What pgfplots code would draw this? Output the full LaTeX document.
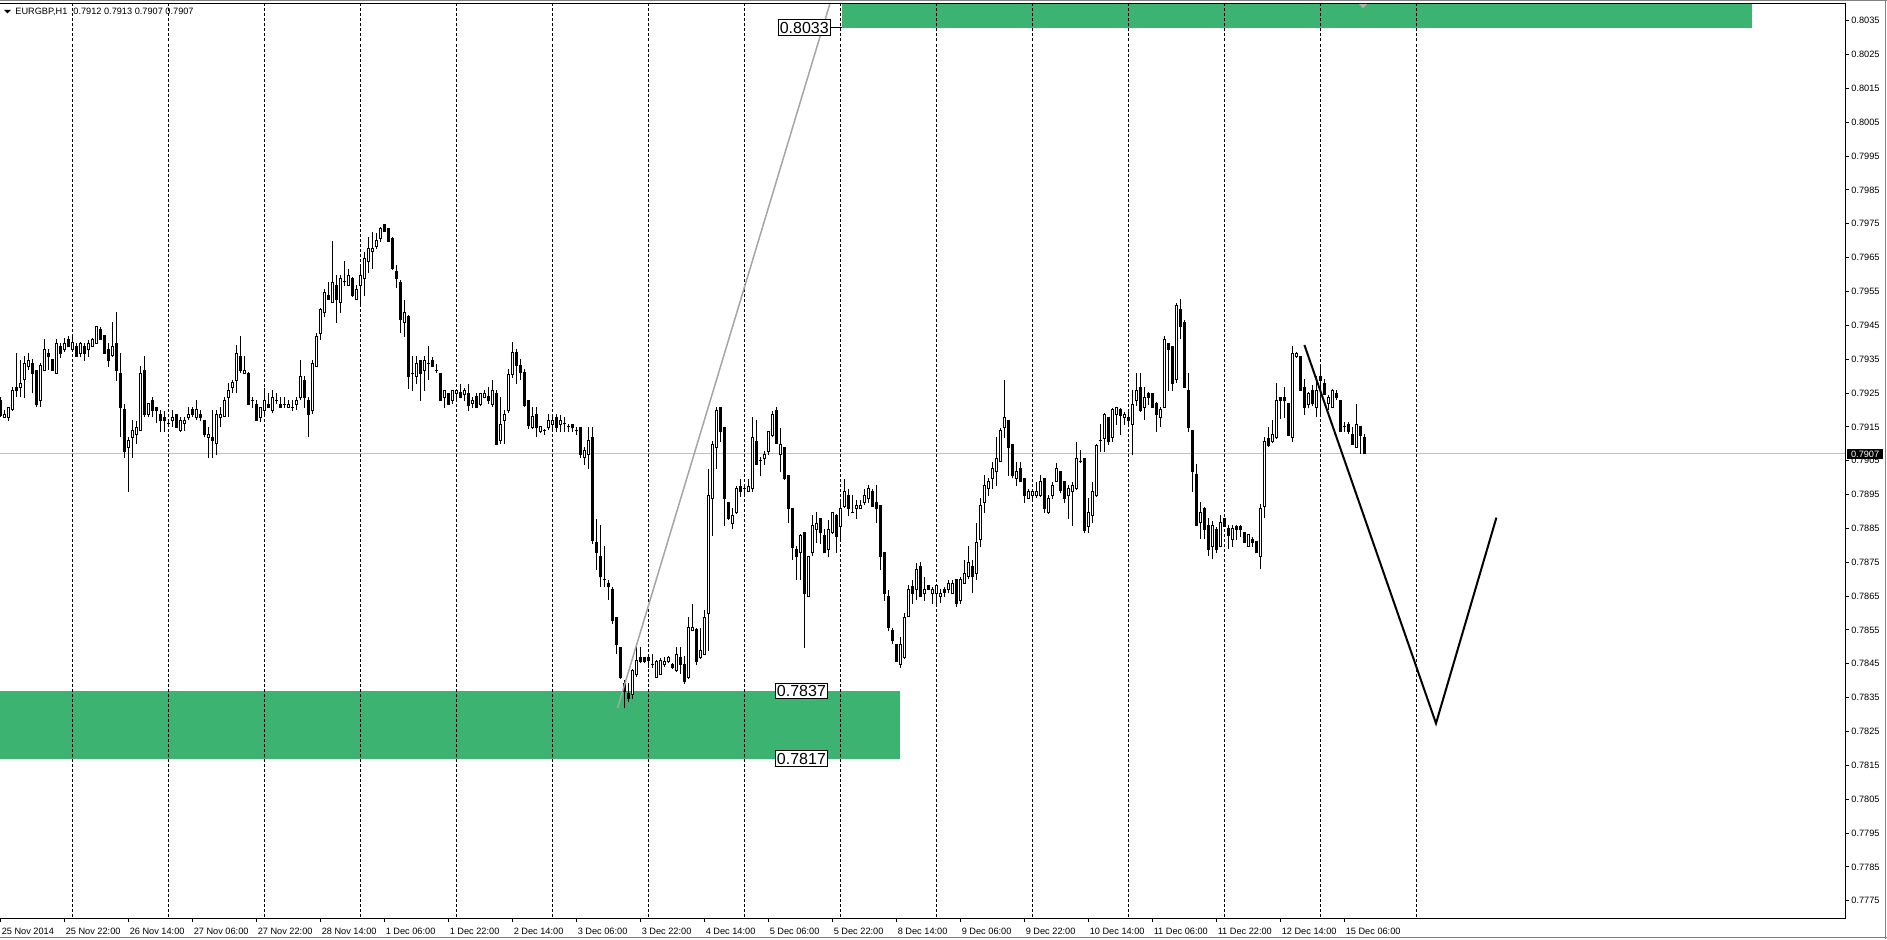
\documentclass[border=0pt]{standalone}
\usepackage{pgfplots}
\pgfplotsset{compat=1.18}
\usepackage{pgfplotstable}
\usepackage{fontspec}
\setmainfont{Liberation Sans}
\definecolor{zone}{RGB}{60,179,113}
\definecolor{bidgray}{RGB}{192,192,192}
\definecolor{trendgray}{RGB}{165,165,165}
\newcommand\mtf{\fontsize{4.6pt}{5.5pt}\selectfont}

\pgfplotstableread{
o h l c
0.79229 0.79239 0.79180 0.79185
0.79178 0.79200 0.79175 0.79188
0.79178 0.79210 0.79168 0.79208
0.79200 0.79267 0.79198 0.79259
0.79267 0.79367 0.79237 0.79257
0.79267 0.79348 0.79237 0.79279
0.79289 0.79360 0.79234 0.79338
0.79328 0.79367 0.79318 0.79346
0.79338 0.79350 0.79249 0.79308
0.79318 0.79318 0.79208 0.79215
0.79228 0.79338 0.79208 0.79330
0.79318 0.79409 0.79316 0.79379
0.79367 0.79379 0.79318 0.79358
0.79348 0.79348 0.79316 0.79316
0.79308 0.79409 0.79306 0.79397
0.79389 0.79397 0.79353 0.79367
0.79379 0.79412 0.79372 0.79397
0.79409 0.79419 0.79385 0.79387
0.79379 0.79417 0.79377 0.79399
0.79389 0.79397 0.79358 0.79358
0.79367 0.79402 0.79358 0.79397
0.79389 0.79397 0.79346 0.79367
0.79379 0.79407 0.79358 0.79397
0.79389 0.79412 0.79387 0.79409
0.79397 0.79448 0.79395 0.79446
0.79438 0.79446 0.79407 0.79409
0.79419 0.79419 0.79365 0.79367
0.79379 0.79397 0.79328 0.79346
0.79360 0.79460 0.79358 0.79389
0.79397 0.79489 0.79287 0.79316
0.79308 0.79367 0.79119 0.79208
0.79200 0.79218 0.79057 0.79077
0.79090 0.79121 0.78959 0.79109
0.79119 0.79170 0.79057 0.79139
0.79129 0.79168 0.79100 0.79149
0.79139 0.79330 0.79137 0.79308
0.79318 0.79360 0.79178 0.79188
0.79188 0.79220 0.79178 0.79218
0.79228 0.79239 0.79178 0.79198
0.79208 0.79210 0.79161 0.79198
0.79188 0.79200 0.79136 0.79168
0.79178 0.79198 0.79136 0.79168
0.79159 0.79170 0.79151 0.79159
0.79168 0.79200 0.79151 0.79178
0.79188 0.79188 0.79146 0.79149
0.79139 0.79178 0.79136 0.79168
0.79159 0.79178 0.79139 0.79170
0.79178 0.79208 0.79170 0.79188
0.79200 0.79210 0.79180 0.79188
0.79178 0.79229 0.79170 0.79200
0.79188 0.79200 0.79168 0.79178
0.79170 0.79170 0.79119 0.79129
0.79119 0.79151 0.79057 0.79129
0.79119 0.79200 0.79057 0.79109
0.79100 0.79200 0.79067 0.79188
0.79178 0.79208 0.79151 0.79188
0.79180 0.79239 0.79178 0.79229
0.79237 0.79279 0.79180 0.79259
0.79266 0.79288 0.79249 0.79280
0.79288 0.79392 0.79249 0.79367
0.79359 0.79418 0.79308 0.79316
0.79308 0.79359 0.79308 0.79318
0.79308 0.79313 0.79214 0.79217
0.79229 0.79239 0.79207 0.79229
0.79217 0.79229 0.79168 0.79168
0.79178 0.79209 0.79165 0.79207
0.79197 0.79266 0.79188 0.79229
0.79217 0.79249 0.79207 0.79207
0.79197 0.79259 0.79190 0.79237
0.79229 0.79249 0.79217 0.79229
0.79217 0.79237 0.79207 0.79207
0.79217 0.79237 0.79207 0.79217
0.79207 0.79229 0.79207 0.79217
0.79207 0.79229 0.79197 0.79207
0.79217 0.79239 0.79199 0.79229
0.79237 0.79347 0.79229 0.79300
0.79288 0.79300 0.79207 0.79237
0.79229 0.79239 0.79119 0.79188
0.79197 0.79347 0.79188 0.79337
0.79328 0.79428 0.79328 0.79418
0.79426 0.79500 0.79408 0.79497
0.79487 0.79556 0.79475 0.79546
0.79539 0.79579 0.79525 0.79526
0.79517 0.79700 0.79517 0.79576
0.79569 0.79598 0.79458 0.79526
0.79517 0.79598 0.79487 0.79589
0.79579 0.79641 0.79566 0.79579
0.79569 0.79618 0.79566 0.79598
0.79589 0.79593 0.79534 0.79539
0.79526 0.79569 0.79525 0.79556
0.79569 0.79628 0.79510 0.79598
0.79589 0.79667 0.79536 0.79648
0.79638 0.79712 0.79605 0.79677
0.79667 0.79726 0.79618 0.79677
0.79684 0.79722 0.79677 0.79700
0.79707 0.79741 0.79697 0.79736
0.79749 0.79749 0.79726 0.79726
0.79736 0.79736 0.79697 0.79697
0.79707 0.79712 0.79615 0.79618
0.79608 0.79628 0.79559 0.79589
0.79576 0.79584 0.79426 0.79467
0.79458 0.79526 0.79416 0.79487
0.79477 0.79480 0.79263 0.79300
0.79308 0.79359 0.79257 0.79308
0.79300 0.79359 0.79276 0.79337
0.79347 0.79347 0.79227 0.79308
0.79318 0.79359 0.79257 0.79347
0.79337 0.79389 0.79288 0.79337
0.79347 0.79357 0.79326 0.79328
0.79318 0.79337 0.79308 0.79318
0.79308 0.79310 0.79227 0.79229
0.79237 0.79259 0.79207 0.79257
0.79249 0.79249 0.79217 0.79217
0.79227 0.79259 0.79217 0.79257
0.79249 0.79263 0.79229 0.79259
0.79251 0.79278 0.79234 0.79237
0.79247 0.79266 0.79227 0.79258
0.79249 0.79278 0.79197 0.79214
0.79219 0.79237 0.79207 0.79229
0.79239 0.79249 0.79207 0.79207
0.79217 0.79251 0.79211 0.79249
0.79237 0.79258 0.79234 0.79249
0.79241 0.79268 0.79219 0.79227
0.79217 0.79288 0.79209 0.79258
0.79249 0.79258 0.79096 0.79099
0.79109 0.79239 0.79099 0.79158
0.79168 0.79199 0.79099 0.79188
0.79197 0.79320 0.79190 0.79305
0.79305 0.79400 0.79295 0.79370
0.79370 0.79380 0.79278 0.79330
0.79330 0.79350 0.79290 0.79310
0.79310 0.79320 0.79210 0.79214
0.79229 0.79229 0.79145 0.79155
0.79148 0.79209 0.79145 0.79180
0.79188 0.79209 0.79119 0.79148
0.79135 0.79152 0.79132 0.79150
0.79138 0.79145 0.79125 0.79138
0.79148 0.79189 0.79140 0.79170
0.79158 0.79180 0.79135 0.79170
0.79178 0.79189 0.79135 0.79148
0.79158 0.79185 0.79135 0.79170
0.79160 0.79180 0.79135 0.79160
0.79150 0.79160 0.79135 0.79150
0.79158 0.79160 0.79135 0.79148
0.79138 0.79150 0.79125 0.79138
0.79148 0.79150 0.79057 0.79069
0.79060 0.79091 0.79037 0.79079
0.79069 0.79150 0.79027 0.79109
0.79119 0.79150 0.78805 0.78815
0.78807 0.78879 0.78727 0.78778
0.78768 0.78860 0.78677 0.78707
0.78699 0.78797 0.78677 0.78699
0.78687 0.78699 0.78638 0.78677
0.78669 0.78677 0.78569 0.78579
0.78587 0.78587 0.78478 0.78508
0.78498 0.78500 0.78406 0.78409
0.78392 0.78401 0.78318 0.78367
0.78362 0.78392 0.78337 0.78347
0.78360 0.78436 0.78347 0.78429
0.78419 0.78500 0.78411 0.78459
0.78468 0.78500 0.78451 0.78456
0.78468 0.78470 0.78451 0.78456
0.78468 0.78475 0.78439 0.78459
0.78449 0.78478 0.78439 0.78449
0.78411 0.78461 0.78409 0.78456
0.78419 0.78468 0.78416 0.78459
0.78449 0.78470 0.78441 0.78456
0.78456 0.78472 0.78451 0.78468
0.78449 0.78453 0.78436 0.78439
0.78429 0.78500 0.78426 0.78478
0.78468 0.78500 0.78421 0.78449
0.78449 0.78472 0.78390 0.78399
0.78409 0.78587 0.78406 0.78557
0.78547 0.78628 0.78547 0.78557
0.78551 0.78557 0.78446 0.78456
0.78468 0.78557 0.78465 0.78488
0.78478 0.78608 0.78475 0.78587
0.78599 0.79027 0.78488 0.78948
0.78938 0.79109 0.78827 0.79099
0.79089 0.79209 0.79027 0.79197
0.79207 0.79209 0.79106 0.79135
0.79148 0.79148 0.78857 0.78938
0.78928 0.78928 0.78876 0.78879
0.78866 0.78909 0.78847 0.78889
0.78896 0.78975 0.78894 0.78968
0.78975 0.78997 0.78943 0.78958
0.78968 0.78978 0.78948 0.78968
0.78958 0.78997 0.78958 0.78975
0.78968 0.79180 0.78958 0.79119
0.79106 0.79170 0.79037 0.79040
0.79050 0.79060 0.79004 0.79050
0.79057 0.79079 0.79037 0.79069
0.79076 0.79138 0.79066 0.79135
0.79125 0.79197 0.79119 0.79188
0.79197 0.79209 0.79101 0.79101
0.79069 0.79148 0.79017 0.79099
0.79089 0.79091 0.78994 0.78997
0.79007 0.79007 0.78866 0.78909
0.78909 0.78909 0.78758 0.78795
0.78788 0.78797 0.78699 0.78766
0.78778 0.78835 0.78699 0.78830
0.78837 0.78840 0.78498 0.78658
0.78648 0.78768 0.78648 0.78766
0.78778 0.78889 0.78768 0.78860
0.78847 0.78899 0.78807 0.78866
0.78879 0.78879 0.78805 0.78837
0.78830 0.78847 0.78776 0.78778
0.78788 0.78876 0.78766 0.78847
0.78837 0.78899 0.78835 0.78896
0.78889 0.78894 0.78778 0.78827
0.78857 0.78931 0.78815 0.78909
0.78916 0.78997 0.78909 0.78958
0.78948 0.78968 0.78886 0.78909
0.78896 0.78948 0.78896 0.78896
0.78909 0.78933 0.78879 0.78919
0.78909 0.78933 0.78909 0.78919
0.78926 0.78968 0.78919 0.78948
0.78938 0.78978 0.78926 0.78968
0.78958 0.78968 0.78914 0.78916
0.78926 0.78978 0.78866 0.78909
0.78919 0.78919 0.78727 0.78766
0.78778 0.78778 0.78636 0.78658
0.78650 0.78669 0.78547 0.78557
0.78549 0.78557 0.78510 0.78518
0.78508 0.78510 0.78456 0.78456
0.78449 0.78528 0.78439 0.78508
0.78468 0.78599 0.78465 0.78587
0.78589 0.78682 0.78587 0.78669
0.78677 0.78699 0.78628 0.78658
0.78670 0.78747 0.78638 0.78729
0.78739 0.78752 0.78646 0.78648
0.78658 0.78707 0.78636 0.78670
0.78680 0.78683 0.78668 0.78670
0.78658 0.78678 0.78628 0.78670
0.78658 0.78683 0.78621 0.78680
0.78648 0.78670 0.78630 0.78658
0.78670 0.78676 0.78648 0.78660
0.78670 0.78699 0.78658 0.78687
0.78658 0.78699 0.78656 0.78687
0.78699 0.78702 0.78619 0.78628
0.78638 0.78707 0.78628 0.78699
0.78687 0.78758 0.78687 0.78717
0.78707 0.78798 0.78702 0.78749
0.78739 0.78758 0.78658 0.78707
0.78717 0.78867 0.78697 0.78808
0.78818 0.78939 0.78796 0.78919
0.78926 0.79008 0.78896 0.78978
0.78968 0.78998 0.78946 0.78988
0.78998 0.79047 0.78968 0.79027
0.79017 0.79119 0.78975 0.79057
0.79047 0.79148 0.79047 0.79138
0.79148 0.79288 0.79116 0.79178
0.79170 0.79170 0.79005 0.79089
0.79099 0.79099 0.78998 0.79005
0.78998 0.79047 0.78975 0.79017
0.79027 0.79047 0.78988 0.78988
0.78998 0.78998 0.78926 0.78946
0.78939 0.78968 0.78936 0.78958
0.78946 0.78963 0.78934 0.78958
0.78946 0.78988 0.78939 0.78958
0.78946 0.79008 0.78944 0.78988
0.78998 0.78998 0.78896 0.78909
0.78896 0.78949 0.78894 0.78939
0.78946 0.78988 0.78936 0.78978
0.78988 0.79042 0.78988 0.79027
0.79017 0.79017 0.78955 0.78963
0.78988 0.78988 0.78926 0.78939
0.78946 0.78978 0.78879 0.78968
0.78958 0.78988 0.78857 0.78978
0.78968 0.79106 0.78965 0.79057
0.79047 0.79082 0.79042 0.79047
0.79057 0.79057 0.78837 0.78845
0.78857 0.78939 0.78837 0.78896
0.78889 0.78988 0.78865 0.78958
0.78946 0.79099 0.78944 0.79096
0.79109 0.79158 0.79077 0.79109
0.79116 0.79192 0.79077 0.79188
0.79178 0.79180 0.79096 0.79106
0.79119 0.79205 0.79106 0.79200
0.79188 0.79210 0.79155 0.79208
0.79200 0.79205 0.79126 0.79185
0.79178 0.79195 0.79155 0.79188
0.79178 0.79195 0.79155 0.79168
0.79158 0.79259 0.79067 0.79217
0.79227 0.79308 0.79212 0.79259
0.79267 0.79308 0.79195 0.79198
0.79208 0.79269 0.79170 0.79237
0.79249 0.79254 0.79215 0.79237
0.79249 0.79249 0.79205 0.79208
0.79218 0.79224 0.79136 0.79188
0.79178 0.79210 0.79149 0.79200
0.79208 0.79419 0.79205 0.79409
0.79397 0.79399 0.79257 0.79379
0.79387 0.79389 0.79257 0.79279
0.79289 0.79517 0.79279 0.79510
0.79497 0.79527 0.79409 0.79446
0.79458 0.79466 0.79267 0.79267
0.79259 0.79308 0.79136 0.79149
0.79139 0.79139 0.78959 0.79018
0.79008 0.79040 0.78860 0.78860
0.78867 0.78929 0.78818 0.78896
0.78909 0.78912 0.78818 0.78847
0.78860 0.78880 0.78768 0.78788
0.78796 0.78873 0.78759 0.78860
0.78847 0.78853 0.78778 0.78788
0.78796 0.78890 0.78796 0.78867
0.78880 0.78880 0.78857 0.78857
0.78850 0.78860 0.78788 0.78828
0.78818 0.78860 0.78796 0.78850
0.78857 0.78860 0.78816 0.78847
0.78857 0.78860 0.78826 0.78847
0.78837 0.78840 0.78806 0.78808
0.78798 0.78833 0.78796 0.78831
0.78818 0.78826 0.78796 0.78808
0.78811 0.78811 0.78778 0.78778
0.78768 0.78922 0.78729 0.78909
0.78916 0.79119 0.78880 0.79106
0.79116 0.79151 0.79091 0.79096
0.79106 0.79170 0.79101 0.79129
0.79119 0.79279 0.79113 0.79227
0.79237 0.79239 0.79172 0.79227
0.79237 0.79267 0.79175 0.79227
0.79218 0.79218 0.79126 0.79126
0.79119 0.79389 0.79106 0.79367
0.79357 0.79372 0.79353 0.79367
0.79359 0.79359 0.79257 0.79257
0.79267 0.79293 0.79185 0.79208
0.79215 0.79254 0.79205 0.79249
0.79257 0.79274 0.79212 0.79218
0.79208 0.79300 0.79178 0.79257
0.79298 0.79336 0.79178 0.79287
0.79277 0.79293 0.79244 0.79247
0.79218 0.79244 0.79200 0.79237
0.79208 0.79261 0.79205 0.79257
0.79249 0.79259 0.79229 0.79237
0.79227 0.79227 0.79136 0.79136
0.79151 0.79165 0.79136 0.79151
0.79158 0.79165 0.79129 0.79136
0.79129 0.79151 0.79096 0.79099
0.79089 0.79218 0.79089 0.79158
0.79151 0.79151 0.79070 0.79126
0.79120 0.79130 0.79070 0.79070
}\candles

\begin{document}
\begin{tikzpicture}
\useasboundingbox (0,0) rectangle (943.5pt,469.5pt);
\fill[white] (0,0) rectangle (943.5pt,469.5pt);
\begin{axis}[
  name=ax, at={(0pt,10.5pt)}, anchor=south west,
  scale only axis, width=922.5pt, height=457.25pt,
  xmin=-0.1, xmax=461.15, ymin=0.77699, ymax=0.80401,
  axis line style={draw=none},
  xtick={0,16,32,48,64,80,96,112,128,144,160,176,192,208,224,240,256,272,288,304,320,336},
  xticklabels={25 Nov 2014,25 Nov 22:00,26 Nov 14:00,27 Nov 06:00,27 Nov 22:00,28 Nov 14:00,1 Dec 06:00,1 Dec 22:00,2 Dec 14:00,3 Dec 06:00,3 Dec 22:00,4 Dec 14:00,5 Dec 06:00,5 Dec 22:00,8 Dec 14:00,9 Dec 06:00,9 Dec 22:00,10 Dec 14:00,11 Dec 06:00,11 Dec 22:00,12 Dec 14:00,15 Dec 06:00},
  ytick={0.7775,0.7785,0.7795,0.7805,0.7815,0.7825,0.7835,0.7845,0.7855,0.7865,0.7875,0.7885,0.7895,0.7905,0.7915,0.7925,0.7935,0.7945,0.7955,0.7965,0.7975,0.7985,0.7995,0.8005,0.8015,0.8025,0.8035},
  yticklabels={0.7775,0.7785,0.7795,0.7805,0.7815,0.7825,0.7835,0.7845,0.7855,0.7865,0.7875,0.7885,0.7895,0.7905,0.7915,0.7925,0.7935,0.7945,0.7955,0.7965,0.7975,0.7985,0.7995,0.8005,0.8015,0.8025,0.8035},
  scaled y ticks=false,
  xtick pos=left, ytick pos=right,
  tick align=outside, major tick length=2pt,
  every tick/.style={black, line width=0.5pt},
  tick label style={font=\mtf, /pgf/number format/assume math mode=true},
  xticklabel style={anchor=north west, inner sep=0pt, xshift=0.5pt, yshift=-3pt},
  yticklabel style={anchor=west, inner sep=0pt, xshift=1pt},
]
% zones
\addplot[fill=zone, draw=none] coordinates {(-2,0.7817) (225,0.7817) (225,0.7837) (-2,0.7837)} -- cycle;
\addplot[fill=zone, draw=none] coordinates {(210.5,0.8033) (438,0.8033) (438,0.8060) (210.5,0.8060)} -- cycle;
% day separators
\pgfplotsinvokeforeach{18,42,66,90,114,138,162,186,210,234,258,282,306,330,354}{
  \draw[black, line width=0.5pt, dash pattern=on 1.5pt off 1pt] (axis cs:#1,0.7760) -- (axis cs:#1,0.8050);
}
% bid line
\addplot[bidgray, line width=0.5pt] coordinates {(-2,0.7907) (465,0.7907)};
% wicks
\addplot[draw=none, mark=none, error bars/.cd, y dir=plus, y explicit, error mark=none,
  error bar style={draw=black, solid, line width=0.5pt}]
  table[x expr=\coordindex, y=l, y error plus expr=\thisrow{h}-\thisrow{l}] {\candles};
% bodies
\addplot[draw=none, mark=none, error bars/.cd, y dir=plus, y explicit, error mark=none,
  error bar style={draw=black, solid, line width=1.5pt}]
  table[x expr=\coordindex, y expr={min(\thisrow{o},\thisrow{c})-0.0000148},
        y error plus expr={abs(\thisrow{c}-\thisrow{o})+0.0000296}] {\candles};
% bull interiors
\addplot[draw=none, mark=none, error bars/.cd, y dir=plus, y explicit, error mark=none,
  error bar style={draw=white, solid, line width=0.5pt}]
  table[x expr=\coordindex, y expr={min(\thisrow{o},\thisrow{c})+0.0000148},
        y error plus expr={(\thisrow{c}>\thisrow{o}) ? max(\thisrow{c}-\thisrow{o}-0.0000296,0) : 0}] {\candles};
% trend lines
\addplot[trendgray, line width=0.75pt] coordinates {(154.3,0.7832) (210,0.80503)};
\addplot[black, line width=1pt] coordinates {(326.0,0.79392) (358.9,0.78274) (374,0.78882)};
% price labels
\draw[black, line width=0.5pt] (axis cs:207.5,0.8033) -- (axis cs:210.5,0.8033);
\node[draw=black, fill=white, line width=0.5pt, anchor=east, inner xsep=0.8pt, inner ysep=1.4pt, font=\fontsize{8pt}{9pt}\selectfont] at (axis cs:207.6,0.8033) {0.8033};
\node[draw=black, fill=white, line width=0.5pt, anchor=east, inner xsep=0.8pt, inner ysep=1pt, font=\fontsize{8pt}{9pt}\selectfont] at (axis cs:206.9,0.7837) {0.7837};
\node[draw=black, fill=white, line width=0.5pt, anchor=east, inner xsep=0.8pt, inner ysep=1pt, font=\fontsize{8pt}{9pt}\selectfont] at (axis cs:206.9,0.7817) {0.7817};
\coordinate (bidpt) at (axis cs:461.15,0.7907);
\end{axis}
\node[fill=black, text=white, font=\mtf, anchor=west, inner sep=0pt, minimum width=18.25pt, minimum height=5pt, xshift=0.75pt] at (bidpt) {0.7907};
\begin{scope}[x=0.5pt, y=-0.5pt, shift={(0pt,469.5pt)}]
  \draw[gray, line width=0.5pt] (0,0.5) -- (1887,0.5);
  \draw[black, line width=0.5pt] (0,3.5) -- (1845,3.5) -- (1845,918) -- (0,918);
  \draw[gray, line width=0.5pt] (1885.5,0) -- (1885.5,939);
  \draw[gray, line width=0.5pt] (0,937.5) -- (1887,937.5);
  \fill[gray!60] (1359,4) -- (1367,4) -- (1363,8) -- cycle;
  \fill[black] (4,10) -- (11,10) -- (7.5,13.5) -- cycle;
  \node[anchor=base west, inner sep=0pt, font=\mtf] at (15,15) {EURGBP,H1};
  \node[anchor=base west, inner sep=0pt, font=\mtf] at (73,15) {0.7912 0.7913 0.7907 0.7907};
\end{scope}
\end{tikzpicture}
\end{document}
